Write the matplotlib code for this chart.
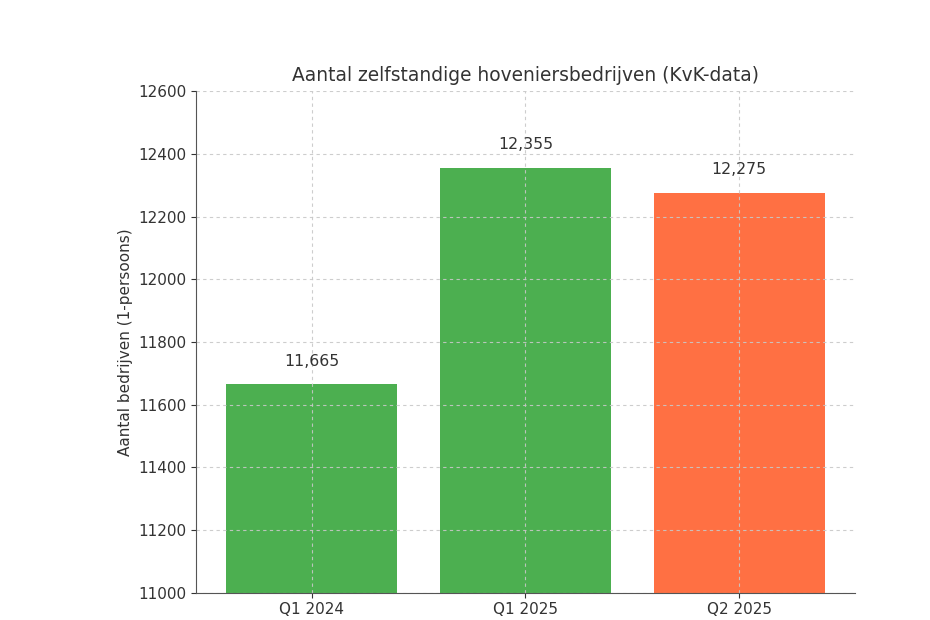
import matplotlib.pyplot as plt

quarters = ['Q1 2024', 'Q1 2025', 'Q2 2025']
counts = [11665, 12355, 12275]
colors = ['#4CAF50', '#4CAF50', '#FF7043']

plt.rcParams['font.family'] = 'DejaVu Sans'
plt.rcParams['text.color'] = '#333333'
plt.rcParams['axes.labelcolor'] = '#333333'
plt.rcParams['xtick.color'] = '#333333'
plt.rcParams['ytick.color'] = '#333333'

fig = plt.figure(figsize=(9.3, 6.2), dpi=100)
ax = fig.add_axes([0.211, 0.044, 0.708, 0.809])

bars = ax.bar(quarters, counts, color=colors, width=0.8)
for b, v in zip(bars, counts):
    ax.text(b.get_x() + b.get_width() / 2, v + 50, f'{v:,}',
            ha='center', va='bottom', fontsize=11.3)

ax.set_ylim(11000, 12600)
ax.set_yticks(range(11000, 12601, 200))
ax.grid(True, linestyle=(0, (3, 3)), color='#c8c8c8', linewidth=0.8, alpha=0.9)
ax.spines['top'].set_visible(False)
ax.spines['right'].set_visible(False)
ax.spines['left'].set_color('#555555')
ax.spines['bottom'].set_color('#555555')
ax.tick_params(labelsize=11)

ax.set_title('Aantal zelfstandige hoveniersbedrijven (KvK-data)', fontsize=13.4, pad=7)
ax.set_ylabel('Aantal bedrijven (1-persoons)', fontsize=11)

fig.savefig('out.png', dpi=100)
